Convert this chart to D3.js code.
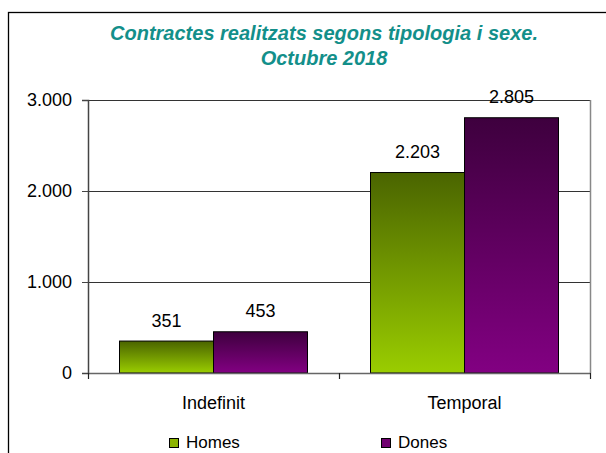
<!DOCTYPE html>
<html>
<head>
<meta charset="utf-8">
<script src="https://cdn.jsdelivr.net/npm/d3@7"></script>
<style>
  body { margin: 0; background: #fff; }
  text { font-family: "Liberation Sans", Arial, sans-serif; }
</style>
</head>
<body>
<div id="chart"></div>
<script>
// Data
const categories = ['Indefinit', 'Temporal'];
const seriesNames = ['Homes', 'Dones'];
const homes = [351, 2203];
const dones = [453, 2805];
const yTicks = [0, 1000, 2000, 3000];

const W = 606, H = 453;
const margin = { top: 100, right: 16, bottom: 80, left: 88 };
const width = 590 - margin.left;
const height = 373 - margin.top;
const fmt = d => d3.format(',')(d).replace(/,/g, '.');

const svg = d3.select('#chart').append('svg')
    .attr('width', W).attr('height', H);

// gradients
const defs = svg.append('defs');
const grads = [
    { id: 'gHomes', top: '#4a6400', bottom: '#9acd00' },
    { id: 'gDones', top: '#3e003e', bottom: '#820082' }
];
grads.forEach(g => {
    const lg = defs.append('linearGradient').attr('id', g.id)
        .attr('x1', 0).attr('y1', 0).attr('x2', 0).attr('y2', 1);
    lg.append('stop').attr('offset', '0%').attr('stop-color', g.top);
    lg.append('stop').attr('offset', '100%').attr('stop-color', g.bottom);
});
const fills = ['url(#gHomes)', 'url(#gDones)'];
const legendFills = ['#8cb400', '#700070'];

// outer frame
svg.append('rect').attr('x', 8.5).attr('y', 12.5)
    .attr('width', 620).attr('height', 460)
    .attr('fill', 'none').attr('stroke', '#000').attr('stroke-width', 1.3);

// title
['Contractes realitzats segons tipologia i sexe.', 'Octubre 2018'].forEach((t, i) => {
    svg.append('text').attr('x', 324).attr('y', 40 + i * 25).attr('text-anchor', 'middle')
        .attr('font-size', 20).attr('font-weight', 'bold').attr('font-style', 'italic')
        .attr('fill', '#138f8a').text(t);
});

const g = svg.append('g').attr('transform', `translate(${margin.left},${margin.top})`);

const x0 = d3.scaleBand().domain(categories).range([0, width]);
const x1 = d3.scaleBand().domain(seriesNames).range([0, 188]);
const y = d3.scaleLinear().domain([0, 3000]).range([height, 0]);

// gridlines
g.selectAll('.grid').data(yTicks.filter(t => t > 0)).enter().append('line')
    .attr('x1', 0).attr('x2', width)
    .attr('y1', d => y(d) + 0.5).attr('y2', d => y(d) + 0.5)
    .attr('stroke', '#333').attr('stroke-width', 1);

// right border of plot area
g.append('line').attr('x1', width + 0.5).attr('x2', width + 0.5)
    .attr('y1', 0).attr('y2', height).attr('stroke', '#888').attr('stroke-width', 1.5);

// bars
const groupOffset = (x0.bandwidth() - 188) / 2;
const bars = [];
categories.forEach((c, i) => {
    bars.push({ cat: c, s: 0, v: homes[i] });
    bars.push({ cat: c, s: 1, v: dones[i] });
});
g.selectAll('.bar').data(bars).enter().append('rect')
    .attr('x', d => x0(d.cat) + groupOffset + x1(seriesNames[d.s]))
    .attr('y', d => y(d.v))
    .attr('width', x1.bandwidth())
    .attr('height', d => height - y(d.v))
    .attr('fill', d => fills[d.s])
    .attr('stroke', '#000').attr('stroke-width', 1);

// value labels
g.selectAll('.lbl').data(bars).enter().append('text')
    .attr('x', d => x0(d.cat) + groupOffset + x1(seriesNames[d.s]) + x1.bandwidth() / 2)
    .attr('y', d => y(d.v) - 14.5)
    .attr('text-anchor', 'middle').attr('font-size', 18).attr('fill', '#000')
    .text(d => fmt(d.v));

// y axis
const yAxis = g.append('g')
    .call(d3.axisLeft(y).tickValues(yTicks).tickSize(6).tickPadding(10).tickFormat(fmt));
yAxis.select('.domain').attr('stroke', '#444').attr('stroke-width', 1.5);
yAxis.selectAll('line').attr('stroke', '#444');
yAxis.selectAll('text').attr('font-size', 18).attr('fill', '#000')
    .attr('font-family', '"Liberation Sans", Arial, sans-serif');

// x axis
const xAxis = g.append('g').attr('transform', `translate(0,${height})`)
    .call(d3.axisBottom(x0).tickSize(0).tickPadding(23));
xAxis.select('.domain').attr('stroke', '#666').attr('stroke-width', 1.5);
xAxis.selectAll('text').attr('font-size', 18).attr('fill', '#000')
    .attr('font-family', '"Liberation Sans", Arial, sans-serif');
// category separators
g.selectAll('.xtick').data([0, x0.bandwidth(), width]).enter().append('line')
    .attr('x1', d => d + 0.5).attr('x2', d => d + 0.5)
    .attr('y1', height).attr('y2', height + 6)
    .attr('stroke', '#222').attr('stroke-width', 1.2);

// legend
const legendX = [169, 381];
seriesNames.forEach((s, i) => {
    svg.append('rect').attr('x', legendX[i] + 0.5).attr('y', 438.5)
        .attr('width', 9).attr('height', 9)
        .attr('fill', legendFills[i]).attr('stroke', '#000');
    svg.append('text').attr('x', legendX[i] + 17).attr('y', 448)
        .attr('font-size', 17).attr('fill', '#000').text(s);
});
</script>
</body>
</html>
